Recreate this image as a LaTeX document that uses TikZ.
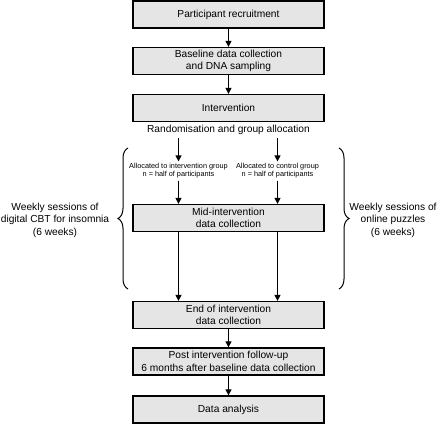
\documentclass[tikz,border=0pt]{standalone}
\usepackage{fontspec}
\setmainfont{Liberation Sans}
\usetikzlibrary{arrows.meta,decorations.pathreplacing}

\begin{document}
\begin{tikzpicture}[x=1pt,y=-1pt,
	stage/.style={draw,line width=1.3pt,fill=black!10,minimum width=191pt,minimum height=27pt,inner sep=1pt,align=center,font=\fontsize{10.2}{12.5}\selectfont},
	note/.style={align=center,inner sep=3.5pt,font=\fontsize{10.2}{12.5}\selectfont},
	alloc/.style={align=center,inner sep=2pt,font=\fontsize{7.3}{8}\selectfont},
	flow/.style={-{Triangle[length=6pt,width=6pt]},line width=1.2pt}]
		\useasboundingbox (0,0) rectangle (440,424);
		\node[stage] (recruit) at (228.5,14.5) {Participant recruitment};
		\node[stage] (baseline) at (228.5,61) {Baseline data collection\\and DNA sampling};
		\node[stage] (interv) at (228.5,108) {Intervention};
		\node[note] (rand) at (228.5,129.5) {Randomisation and group allocation};
		\node[alloc] (allocI) at (178.5,171) {Allocated to intervention group\\n = half of participants};
		\node[alloc] (allocC) at (277.5,171) {Allocated to control group\\n = half of participants};
		\node[stage] (mid) at (228.5,218) {Mid-intervention\\data collection};
		\node[stage] (endint) at (228.5,315) {End of intervention\\data collection};
		\node[stage] (followup) at (228.5,361.5) {Post intervention follow-up\\6 months after baseline data collection};
		\node[stage] (analysis) at (228.5,409.5) {Data analysis};
		\node[note] (cbt) at (55,220) {Weekly sessions of\\digital CBT for insomnia\\(6 weeks)};
		\node[note] (puzzles) at (393,220) {Weekly sessions of\\online puzzles\\(6 weeks)};
		% connectors
		\draw[flow] (recruit) -- (baseline);
		\draw[flow] (baseline) -- (interv);
		\draw[flow] (rand.south -| allocI) -- (allocI);
		\draw[flow] (rand.south -| allocC) -- (allocC);
		\draw[flow] (allocI) -- (mid.north -| allocI);
		\draw[flow] (allocC) -- (mid.north -| allocC);
		\draw[flow] (mid.south -| allocI) -- (endint.north -| allocI);
		\draw[flow] (mid.south -| allocC) -- (endint.north -| allocC);
		\draw[flow] (endint) -- (followup);
		\draw[flow] (followup) -- (analysis);
		% braces
		\draw[line width=1pt,decorate,decoration={brace,amplitude=10pt}] (128,289) -- (128,148);
		\draw[line width=1pt,decorate,decoration={brace,amplitude=10pt}] (339,148) -- (339,289);
\end{tikzpicture}
\end{document}
